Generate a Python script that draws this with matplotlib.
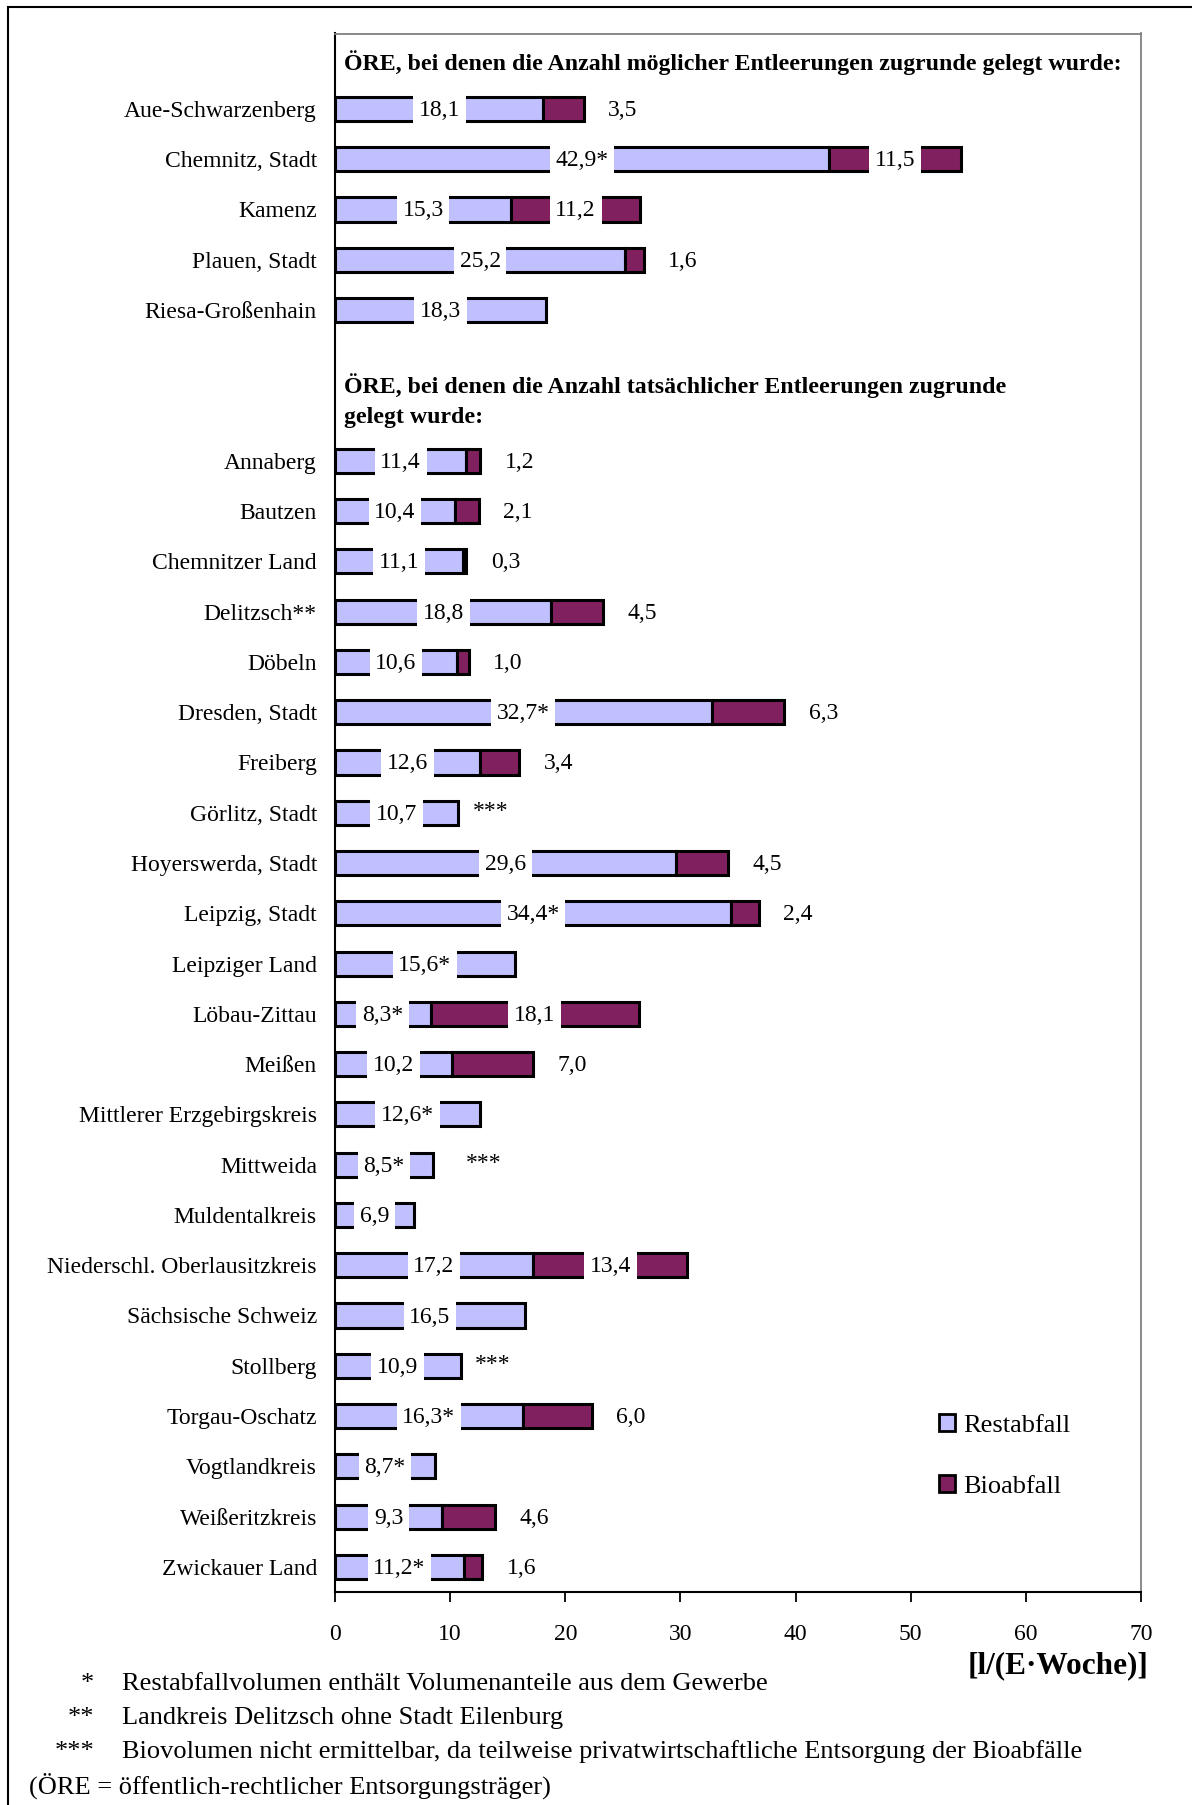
import numpy as np
import matplotlib
matplotlib.use('Agg')
import matplotlib.pyplot as plt
from matplotlib.patches import Rectangle, Patch

plt.rcParams['font.family'] = ['Liberation Serif', 'DejaVu Serif']

# ÖRE with "mögliche Entleerungen"
group1 = ['Aue-Schwarzenberg', 'Chemnitz, Stadt', 'Kamenz', 'Plauen, Stadt',
          'Riesa-Großenhain']
rest1 = [18.1, 42.9, 15.3, 25.2, 18.3]
bio1 = [3.5, 11.5, 11.2, 1.6, np.nan]
star1 = ['', '*', '', '', '']
note1 = ['', '', '', '', '']

# ÖRE with "tatsächliche Entleerungen"
group2 = ['Annaberg', 'Bautzen', 'Chemnitzer Land', 'Delitzsch**', 'Döbeln',
          'Dresden, Stadt', 'Freiberg', 'Görlitz, Stadt', 'Hoyerswerda, Stadt',
          'Leipzig, Stadt', 'Leipziger Land', 'Löbau-Zittau', 'Meißen',
          'Mittlerer Erzgebirgskreis', 'Mittweida', 'Muldentalkreis',
          'Niederschl. Oberlausitzkreis', 'Sächsische Schweiz', 'Stollberg',
          'Torgau-Oschatz', 'Vogtlandkreis', 'Weißeritzkreis', 'Zwickauer Land']
rest2 = [11.4, 10.4, 11.1, 18.8, 10.6, 32.7, 12.6, 10.7, 29.6, 34.4, 15.6, 8.3,
         10.2, 12.6, 8.5, 6.9, 17.2, 16.5, 10.9, 16.3, 8.7, 9.3, 11.2]
bio2 = [1.2, 2.1, 0.3, 4.5, 1.0, 6.3, 3.4, np.nan, 4.5, 2.4, np.nan, 18.1, 7.0,
        np.nan, np.nan, np.nan, 13.4, np.nan, np.nan, 6.0, np.nan, 4.6, 1.6]
star2 = ['', '', '', '', '', '*', '', '', '', '*', '*', '*', '', '*', '*', '',
         '', '', '', '*', '*', '', '*']
note2 = ['', '', '', '', '', '', '', '***', '', '', '', '', '', '', '***', '',
         '', '', '***', '', '', '', '']

header1 = 'ÖRE, bei denen die Anzahl möglicher Entleerungen zugrunde gelegt wurde:'
header2 = 'ÖRE, bei denen die Anzahl tatsächlicher Entleerungen zugrunde\ngelegt wurde:'
footnotes = [('*', 'Restabfallvolumen enthält Volumenanteile aus dem Gewerbe'),
             ('**', 'Landkreis Delitzsch ohne Stadt Eilenburg'),
             ('***', 'Biovolumen nicht ermittelbar, da teilweise privatwirtschaftliche Entsorgung der Bioabfälle')]
abbrev = '(ÖRE = öffentlich-rechtlicher Entsorgungsträger)'
xticks = [0, 10, 20, 30, 40, 50, 60, 70]

c_rest = '#C0C0FF'
c_bio = '#80205F'

# slot layout: header slot, group1, two header slots, group2
names = group1 + group2
rest = np.array(rest1 + rest2)
bio = np.array(bio1 + bio2)
stars = star1 + star2
notes = note1 + note2
ypos = np.concatenate([np.arange(1, 1 + len(group1)),
                       np.arange(3 + len(group1), 3 + len(group1) + len(group2))])

fig = plt.figure(figsize=(11.92, 18.05), dpi=100)
ax = fig.add_axes([335 / 1192, 1 - 1592 / 1805, (1141 - 335) / 1192, (1592 - 33.5) / 1805])

fs = 17
h = 0.48
ax.barh(ypos, rest, height=h, color=c_rest, edgecolor='black', linewidth=2.2, zorder=2)
ax.barh(ypos, np.nan_to_num(bio), left=rest, height=h, color=c_bio,
        edgecolor='black', linewidth=2.2, zorder=2)
# hide zero-width bio bars
for p, b in zip(ax.patches[len(names):], bio):
    if np.isnan(b):
        p.set_visible(False)

box = dict(facecolor='white', edgecolor='none', pad=4)
fmt = lambda v: f'{v:.1f}'.replace('.', ',')
for y, r, b, s, n in zip(ypos, rest, bio, stars, notes):
    ax.text(r / 2, y + 0.03, fmt(r) + s, ha='center', va='center', fontsize=fs,
            bbox=box, zorder=3)
    if not np.isnan(b):
        bx = r + b / 2 if b >= 10 else r + b + 3.4
        ax.text(bx, y + 0.03, fmt(b), ha='center', va='center', fontsize=fs,
                bbox=box, zorder=3)
    if n:
        ax.text(max(r + 2.8, 12.9), y - 0.02, n, ha='center', va='center',
                fontsize=fs, zorder=3)

ax.text(0.75, 0.08, header1, ha='left', va='center', fontsize=17.2,
        fontweight='bold')
ax.text(0.75, 6.8, header2, ha='left', va='center', fontsize=17.2,
        fontweight='bold', linespacing=1.55)

ax.set_xlim(0, 70)
ax.set_ylim(len(group1) + len(group2) + 2.5, -0.5)
ax.set_yticks(ypos)
ax.set_yticklabels(names, fontsize=fs)
ax.tick_params(axis='y', length=0, pad=13)
ax.set_xticks(xticks)
ax.set_xticklabels([str(t) for t in xticks], fontsize=fs)
ax.tick_params(axis='x', direction='out', length=7, width=1.3, pad=16)
for side in ['top', 'right']:
    ax.spines[side].set_color('#808080')
    ax.spines[side].set_linewidth(1.3)
for side in ['left', 'bottom']:
    ax.spines[side].set_color('black')
    ax.spines[side].set_linewidth(1.5)

handles = [Patch(facecolor=c_rest, edgecolor='black', linewidth=2, label='Restabfall'),
           Patch(facecolor=c_bio, edgecolor='black', linewidth=2, label='Bioabfall')]
fig.legend(handles=handles, loc='upper left', bbox_to_anchor=(939 / 1192, 1 - 1414 / 1805),
           frameon=False, fontsize=19, handlelength=0.6, handleheight=0.6,
           handletextpad=0.3, labelspacing=1.45, borderpad=0, borderaxespad=0)

fig.text(1148 / 1192, 1 - 1666 / 1805, '[l/(E·Woche)]', ha='right', va='center',
         fontsize=22.5, fontweight='bold')

fy = [1684, 1718, 1752]
for (mark, txt), y in zip(footnotes, fy):
    fig.text(94 / 1192, 1 - y / 1805, mark, ha='right', va='center', fontsize=19)
    fig.text(122 / 1192, 1 - y / 1805, txt, ha='left', va='center', fontsize=19)
fig.text(29 / 1192, 1 - 1786 / 1805, abbrev, ha='left', va='center', fontsize=19)

# outer frame (right and bottom run off the page)
fig.add_artist(Rectangle((8 / 1192, -0.1), 1.2, 0.1 + 1 - 7 / 1805, fill=False,
                         edgecolor='black', linewidth=1.5, transform=fig.transFigure,
                         clip_on=False))

fig.savefig('out.png', dpi=100)
